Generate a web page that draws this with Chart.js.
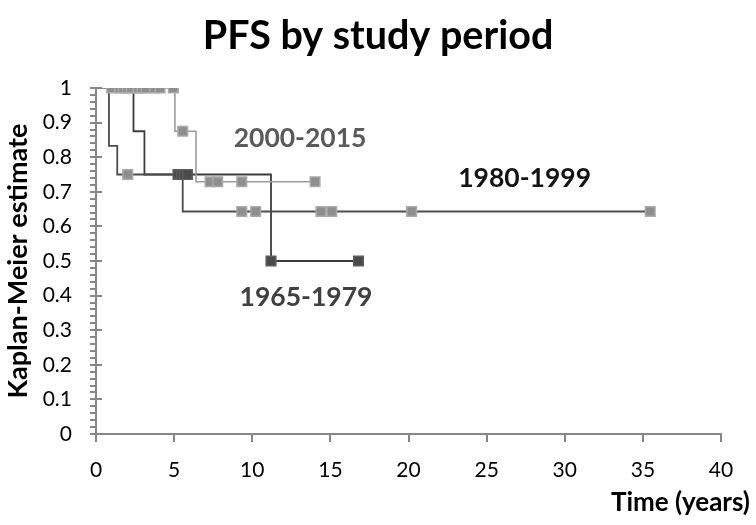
<!DOCTYPE html>
<html>
<head>
  <title>PFS by study period</title>
  <script src="https://cdn.jsdelivr.net/npm/chart.js"></script>
  <style>
    html, body { margin: 0; padding: 0; background: #fff; }
    #wrap { width: 756px; height: 525px; }
  </style>
</head>
<body>
  <div id="wrap"><canvas id="pfs-chart"></canvas></div>
  <script>
    // Kaplan-Meier steps (time in years, estimate)
    var t1965 = [0, 2.4, 3.1, 11.2, 16.8];
    var s1965 = [1, 0.875, 0.75, 0.5, 0.5];
    var c1965t = [5.25, 5.45, 5.65, 5.85, 11.2, 16.8];
    var c1965s = [0.75, 0.75, 0.75, 0.75, 0.5, 0.5];

    var t1980 = [0, 0.83, 1.36, 5.55, 35.47];
    var s1980 = [1, 0.833, 0.75, 0.643, 0.643];
    var c1980t = [2.03, 9.33, 10.22, 14.4, 15.09, 20.2, 35.47];
    var c1980s = [0.75, 0.643, 0.643, 0.643, 0.643, 0.643, 0.643];

    var t2000 = [0, 5.05, 6.4, 14.02];
    var s2000 = [1, 0.875, 0.729, 0.729];
    var c2000t = [1.0, 1.5, 1.75, 2.0, 2.25, 2.7, 2.95, 3.2, 3.75, 4.1, 4.95, 5.55, 7.3, 7.79, 9.33, 14.02];
    var c2000s = [1, 1, 1, 1, 1, 1, 1, 1, 1, 1, 1, 0.875, 0.729, 0.729, 0.729, 0.729];

    var periodLabels = ['1965-1979', '1980-1999', '2000-2015'];
    var labelX = [13.44, 27.43, 13.06];
    var labelY = [0.395, 0.739, 0.853];

    function pts(xs, ys) {
      return xs.map(function(x, i) { return {x: x, y: ys[i]}; });
    }

    Chart.defaults.font.family = 'Lato, "Open Sans", sans-serif';
    Chart.defaults.color = '#000';

    var lightMark = '#8e8e8e', lightEdge = '#a9a9a9';
    var darkMark = '#4a4a4a', darkEdge = '#5c5c5c';

    function stepLine(label, data, color, width) {
      return {
        type: 'line', label: label, data: data, stepped: true,
        borderColor: color, borderWidth: width, pointRadius: 0, fill: false, order: 2
      };
    }
    function marks(label, data, fill, edge) {
      return {
        type: 'scatter', label: label + ' censored', data: data, showLine: false,
        pointStyle: 'rect', pointRadius: 6.8, backgroundColor: fill,
        borderColor: edge, borderWidth: 1.5, order: 1
      };
    }

    var textLabels = {
      id: 'textLabels',
      afterDatasetsDraw: function(chart) {
        var ctx = chart.ctx, xs = chart.scales.x, ys = chart.scales.y;
        var colors = ['#404040', '#141414', '#5a5a5a'];
        ctx.save();
        // title is centred on the whole picture, not on the plot
        ctx.fillStyle = '#000';
        ctx.font = 'bold 39.5px Lato, sans-serif';
        ctx.textAlign = 'center';
        ctx.textBaseline = 'alphabetic';
        ctx.fillText('PFS by study period', chart.width / 2, 49);

        ctx.font = 'bold 26.5px Lato, sans-serif';
        ctx.textBaseline = 'middle';
        periodLabels.forEach(function(txt, i) {
          ctx.fillStyle = colors[i];
          ctx.fillText(txt, xs.getPixelForValue(labelX[i]), ys.getPixelForValue(labelY[i]));
        });
        // x axis title sits right of the plot, as in the figure
        ctx.fillStyle = '#000';
        ctx.font = 'bold 26px Lato, sans-serif';
        ctx.textAlign = 'right';
        ctx.fillText('Time (years)', 750, 503);
        // major y ticks cross the axis
        ctx.strokeStyle = '#868686';
        ctx.lineWidth = 2;
        for (var v = 1; v <= 10; v++) {
          var py = Math.round(ys.getPixelForValue(v / 10));
          ctx.beginPath();
          ctx.moveTo(xs.left, py);
          ctx.lineTo(xs.left + 6, py);
          ctx.stroke();
        }
        ctx.restore();
      }
    };

    new Chart(document.getElementById('pfs-chart'), {
      type: 'scatter',
      data: {
        datasets: [
          marks('1965-1979', pts(c1965t, c1965s), darkMark, darkEdge),
          marks('1980-1999', pts(c1980t, c1980s), lightMark, lightEdge),
          marks('2000-2015', pts(c2000t, c2000s), lightMark, lightEdge),
          stepLine('2000-2015', pts(t2000, s2000), '#9c9c9c', 1.6),
          stepLine('1980-1999', pts(t1980, s1980), '#4d4d4d', 1.8),
          stepLine('1965-1979', pts(t1965, s1965), '#3c3c3c', 1.8)
        ]
      },
      options: {
        responsive: true,
        maintainAspectRatio: false,
        animation: false,
        layout: { padding: { left: 0, right: 35, top: 88, bottom: 0 } },
        plugins: {
          legend: { display: false },
          tooltip: { enabled: false },
          title: { display: false }
        },
        scales: {
          x: {
            type: 'linear',
            min: 0, max: 40,
            afterFit: function(s) { s.height = 91; },
            border: { color: '#868686', width: 2 },
            grid: { drawOnChartArea: false, drawTicks: true, tickLength: 8, color: '#868686', lineWidth: 2 },
            ticks: { stepSize: 5, font: { size: 21 }, padding: 16, maxRotation: 0 }
          },
          y: {
            min: 0, max: 1,
            afterFit: function(s) { s.width = 96; },
            border: { color: '#868686', width: 2 },
            grid: { drawOnChartArea: false, drawTicks: true, tickLength: 6, color: '#868686', lineWidth: 2 },
            ticks: {
              stepSize: 0.02,
              autoSkip: false,
              padding: 18,
              font: { size: 21 },
              callback: function(v) {
                var tenth = Math.round(v * 10);
                if (Math.abs(v * 10 - tenth) > 1e-6) return '';
                return tenth === 0 ? '0' : tenth === 10 ? '1' : (tenth / 10).toFixed(1);
              }
            },
            title: {
              display: true,
              text: 'Kaplan-Meier estimate',
              font: { size: 27, weight: 'bold' },
              padding: { top: 2, bottom: 0 }
            }
          }
        }
      },
      plugins: [textLabels]
    });
  </script>
</body>
</html>
